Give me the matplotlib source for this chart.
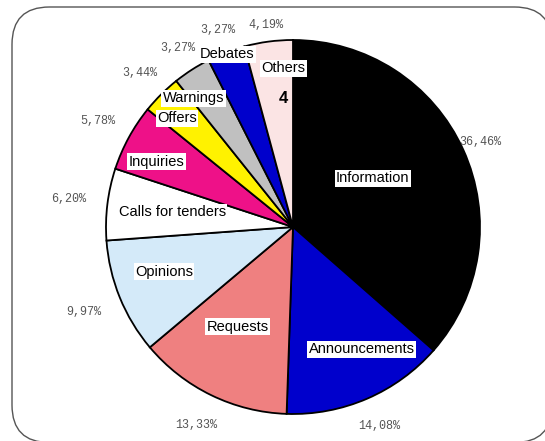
import numpy as np
import matplotlib
matplotlib.use("Agg")
import matplotlib.pyplot as plt
from matplotlib.patches import FancyBboxPatch

categories = ["Information", "Announcements", "Requests", "Opinions",
              "Calls for tenders", "Inquiries", "Offers", "Warnings",
              "Debates", "Others"]
shares = [36.46, 14.08, 13.33, 9.97, 6.20, 5.78, 3.44, 3.27, 3.27, 4.19]
pct_labels = ["36,46%", "14,08%", "13,33%", "9,97%", "6,20%",
              "5,78%", "3,44%", "3,27%", "3,27%", "4,19%"]
colors = ["#000000", "#0000cc", "#ef8080", "#d4eaf9", "#ffffff",
          "#ee1188", "#fff200", "#c0c0c0", "#0000cc", "#fbe4e4"]

# label placement (radius factor, angle offset in degrees)
cat_r = [0.50, 0.75, 0.61, 0.73, 0.65, 0.81, 0.85, 0.87, 0.99, 0.85]
cat_da = [7, 6, -3, -3, 0, 3, 2, 5, 0, -4]
pct_r = [1.10, 1.16, 1.18, 1.21, 1.21, 1.19, 1.16, 1.14, 1.13, 1.09]

plt.rcParams["font.family"] = ["Liberation Sans", "DejaVu Sans"]

W, H = 545, 441
cx, cy, R = 293, 227, 187
fig = plt.figure(figsize=(W / 100, H / 100), dpi=100)
ax = fig.add_axes([0, 0, 1, 1])

wedges, _ = ax.pie(shares, colors=colors, startangle=90, counterclock=False,
                   radius=1.0, wedgeprops=dict(edgecolor="black", linewidth=1.3))

ax.set_aspect("auto")
ax.set_xlim(-cx / R, (W - cx) / R)
ax.set_ylim(-(H - cy) / R, cy / R)
ax.axis("off")

frame = FancyBboxPatch(((12 - cx) / R, (cy - 442.5) / R), (552 - 12) / R, 435.5 / R,
                       boxstyle="round,pad=0,rounding_size=0.2",
                       fc="white", ec="#555555", lw=1.0, zorder=0,
                       clip_on=False)
ax.add_patch(frame)

for i, w in enumerate(wedges):
    mid = (w.theta1 + w.theta2) / 2
    a = np.deg2rad(mid + cat_da[i])
    ax.text(cat_r[i] * np.cos(a), cat_r[i] * np.sin(a), categories[i],
            ha="center", va="center", fontsize=10.5, color="black", zorder=5,
            bbox=dict(fc="white", ec="none", pad=1.0))
    b = np.deg2rad(mid)
    ax.text(pct_r[i] * np.cos(b), pct_r[i] * np.sin(b), pct_labels[i],
            ha="center", va="center", fontsize=8.5, color="#555555",
            family=["Liberation Mono", "DejaVu Sans Mono"])
    if categories[i] == "Others":
        ax.text(cat_r[i] * np.cos(a), cat_r[i] * np.sin(a) - 0.16, "4",
                ha="center", va="center", fontsize=12, fontweight="bold", zorder=5)

fig.savefig("out.png", dpi=100)
